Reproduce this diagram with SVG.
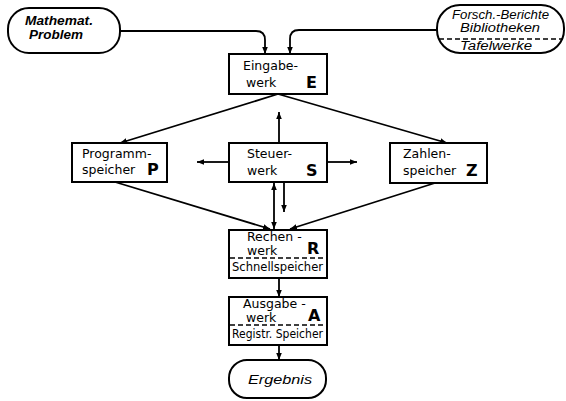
<svg xmlns="http://www.w3.org/2000/svg" width="566" height="401" viewBox="0 0 566 401">
<defs>
<style>
.box{fill:#fff;stroke:#000;stroke-width:2}
.pill{fill:#fff;stroke:#000;stroke-width:2}
.dash{stroke:#000;stroke-width:1.5;stroke-dasharray:5,3;fill:none}
.con{stroke:#000;stroke-width:1.8;fill:none}
.t{font-family:"DejaVu Sans","Liberation Sans",sans-serif;font-size:12.5px;fill:#000}
.big{font-family:"DejaVu Sans","Liberation Sans",sans-serif;font-size:16px;font-weight:bold;fill:#000}
.it{font-family:"Liberation Sans","DejaVu Sans",sans-serif;font-style:italic;font-size:12px;fill:#000}
</style>
<marker id="ah" viewBox="0 0 10 10" refX="10" refY="5" markerWidth="7" markerHeight="7" markerUnits="userSpaceOnUse" orient="auto-start-reverse">
<path d="M0,1 L10,5 L0,9 Z" fill="#000"/>
</marker>
</defs>
<rect width="566" height="401" fill="#fff"/>
<g id="connectors">
<path class="con" d="M120,31 H256 Q265,31 265,40 V54" marker-end="url(#ah)"/>
<path class="con" d="M437,30 H299 Q290,30 290,39 V54" marker-end="url(#ah)"/>
<path class="con" d="M278,94 L120,143" marker-end="url(#ah)"/>
<path class="con" d="M278,94 L447,143" marker-end="url(#ah)"/>
<path class="con" d="M279,143 V112" marker-end="url(#ah)"/>
<path class="con" d="M229,162 H197" marker-end="url(#ah)"/>
<path class="con" d="M327,162 H357" marker-end="url(#ah)"/>
<path class="con" d="M115,182 L270,229" marker-end="url(#ah)"/>
<path class="con" d="M435,183 L290,229" marker-end="url(#ah)"/>
<path class="con" d="M274,183 V229" marker-start="url(#ah)" marker-end="url(#ah)"/>
<path class="con" d="M284,182 V212" marker-end="url(#ah)"/>
<path class="con" d="M279,278 V297" marker-end="url(#ah)"/>
<path class="con" d="M279,345 V360" marker-end="url(#ah)"/>
</g>
<g id="mathproblem">
<rect class="pill" x="8" y="8" width="112" height="45" rx="21"/>
<text class="it" x="25" y="25" font-weight="bold" textLength="68" lengthAdjust="spacingAndGlyphs">Mathemat.</text>
<text class="it" x="29" y="39" font-weight="bold" textLength="54" lengthAdjust="spacingAndGlyphs">Problem</text>
</g>
<g id="quellen">
<rect class="pill" x="437" y="5" width="127" height="48" rx="23"/>
<text class="it" x="452" y="19" font-size="10" textLength="97" lengthAdjust="spacingAndGlyphs">Forsch.-Berichte</text>
<text class="it" x="460" y="32" font-size="10.5" textLength="80" lengthAdjust="spacingAndGlyphs">Bibliotheken</text>
<line class="dash" x1="439" y1="39" x2="563" y2="39"/>
<text class="it" x="460" y="50" font-size="10.5" textLength="72" lengthAdjust="spacingAndGlyphs">Tafelwerke</text>
</g>
<g id="eingabewerk">
<rect class="box" x="229" y="54" width="98" height="40"/>
<text class="t" x="243" y="70">Eingabe-</text>
<text class="t" x="246" y="87">werk</text>
<text class="big" x="306" y="88">E</text>
</g>
<g id="programmspeicher">
<rect class="box" x="72" y="143" width="95" height="39"/>
<text class="t" x="82" y="158">Programm-</text>
<text class="t" x="82" y="174">speicher</text>
<text class="big" x="147" y="175">P</text>
</g>
<g id="steuerwerk">
<rect class="box" x="229" y="143" width="98" height="39"/>
<text class="t" x="247" y="158">Steuer-</text>
<text class="t" x="247" y="175">werk</text>
<text class="big" x="306" y="176">S</text>
</g>
<g id="zahlenspeicher">
<rect class="box" x="390" y="143" width="97" height="40"/>
<text class="t" x="403" y="158">Zahlen-</text>
<text class="t" x="403" y="175">speicher</text>
<text class="big" x="466" y="176">Z</text>
</g>
<g id="rechenwerk">
<rect class="box" x="229" y="230" width="98" height="48"/>
<text class="t" x="247" y="241" font-size="10.5">Rechen -</text>
<text class="t" x="247" y="255" font-size="10.5">werk</text>
<text class="big" x="307" y="254">R</text>
<line class="dash" x1="230" y1="258" x2="326" y2="258"/>
<text class="t" x="232" y="271" textLength="91" lengthAdjust="spacingAndGlyphs">Schnellspeicher</text>
</g>
<g id="ausgabewerk">
<rect class="box" x="229" y="297" width="98" height="48"/>
<text class="t" x="243" y="308" font-size="10.5">Ausgabe -</text>
<text class="t" x="246" y="322" font-size="10.5">werk</text>
<text class="big" x="308" y="321">A</text>
<line class="dash" x1="230" y1="325" x2="326" y2="325"/>
<text class="t" x="232" y="338" textLength="91" lengthAdjust="spacingAndGlyphs">Registr. Speicher</text>
</g>
<g id="ergebnis">
<rect class="pill" x="229" y="360" width="97" height="38" rx="18"/>
<text class="it" x="248" y="384" font-size="16" textLength="64" lengthAdjust="spacingAndGlyphs">Ergebnis</text>
</g>
</svg>
